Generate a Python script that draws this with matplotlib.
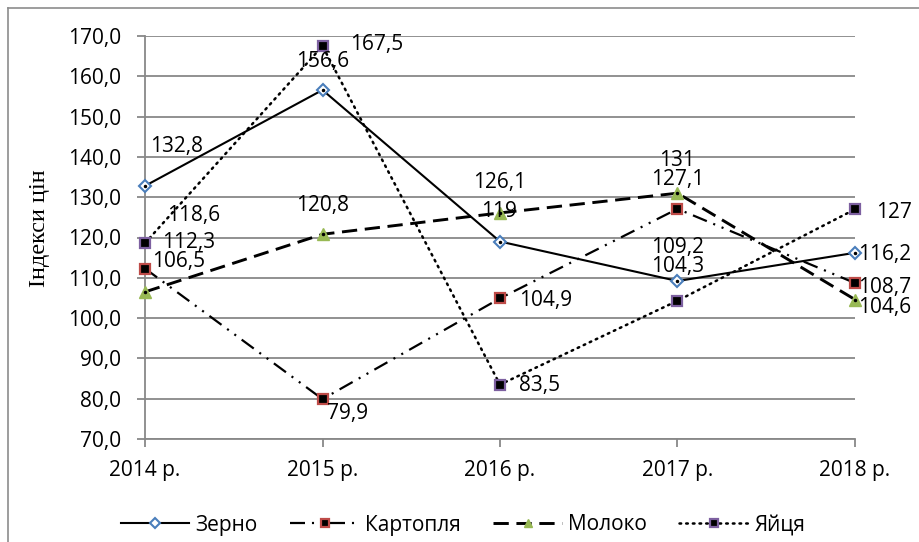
import matplotlib
matplotlib.use("Agg")
import matplotlib.pyplot as plt
from matplotlib.lines import Line2D

years = ["2014 р.", "2015 р.", "2016 р.", "2017 р.", "2018 р."]
zerno = [132.8, 156.6, 119.0, 109.2, 116.2]
kartoplia = [112.3, 79.9, 104.9, 127.1, 108.7]
moloko = [106.5, 120.8, 126.1, 131.0, 104.6]
yaitsia = [118.6, 167.5, 83.5, 104.3, 127.0]
labels_zerno = ["132,8", "156,6", "119", "109,2", "116,2"]
labels_kart = ["112,3", "79,9", "104,9", "127,1", "108,7"]
labels_mol = ["106,5", "120,8", "126,1", "131", "104,6"]
labels_yai = ["118,6", "167,5", "83,5", "104,3", "127"]
yticks = [70, 80, 90, 100, 110, 120, 130, 140, 150, 160, 170]
ytick_labels = ["70,0", "80,0", "90,0", "100,0", "110,0", "120,0", "130,0",
                "140,0", "150,0", "160,0", "170,0"]

plt.rcParams['font.family'] = ['Open Sans', 'DejaVu Sans']
plt.rcParams['lines.scale_dashes'] = False

fig = plt.figure(figsize=(9.2, 5.42), dpi=100)
ax = fig.add_axes([145/920, 1-439/542, (855-145)/920, (439-36)/542])

x = list(range(len(years)))
grid_c = '#888888'

# frame of chart area (left/top visible)
fig.add_artist(Line2D([8/920, 8/920], [0, 1-8/542], transform=fig.transFigure, color='#8c8c8c', lw=1.2))
fig.add_artist(Line2D([8/920, 1], [1-8/542, 1-8/542], transform=fig.transFigure, color='#8c8c8c', lw=1.2))

blue, red, green, purple = '#4A7EBB', '#BE4B48', '#98B954', '#7D60A0'

l1, = ax.plot(x, zerno, color='black', lw=1.5, ls='-', marker='D', ms=6,
              mfc='white', mec=blue, mew=1.5, zorder=5, label='Зерно', clip_on=False)
ax.plot(x, zerno, ls='none', marker='.', ms=3, color='black', zorder=6, clip_on=False)
l2, = ax.plot(x, kartoplia, color='black', lw=1.6,
              ls=(0, (10.8, 5, 1.5, 5, 1.5, 5)), marker='s', ms=7,
              mfc='black', mec=red, mew=1.6, zorder=5, label='Картопля', clip_on=False)
l3, = ax.plot(x, moloko, color='black', lw=2.1, ls=(0, (11, 5.5)),
              marker='^', ms=8, mfc=green, mec=green, mew=1, zorder=5, label='Молоко', clip_on=False)
ax.plot(x, moloko, ls='none', marker='.', ms=3, color='black', zorder=6, clip_on=False)
l4, = ax.plot(x, yaitsia, color='black', lw=1.8, ls=(0, (1.2, 3.6)),
              dash_capstyle='round', marker='s', ms=7, mfc='black', mec=purple,
              mew=1.6, zorder=5, label='Яйця', clip_on=False)

fs = 15
def lab(xi, yv, txt, dx, dy, ha):
    ax.annotate(txt, (xi, yv), xytext=(dx, -dy), textcoords='offset pixels',
                ha=ha, va='center', fontsize=fs, zorder=7)

# (dx pixels, dy pixels downward, ha)
pos_zerno = [(5, -39, 'left'), (0, -29, 'center'), (-1, -30, 'center'), (0, -34, 'center'), (3, 2, 'left')]
pos_kart = [(17, -26, 'left'), (5, 14, 'left'), (19, 2, 'left'), (0, -29, 'center'), (3, 4, 'left')]
pos_mol = [(7, -30, 'left'), (0, -29, 'center'), (0, -30, 'center'), (0, -33, 'center'), (3, 8, 'left')]
pos_yai = [(22, -28, 'left'), (28, -2, 'left'), (19, 1, 'left'), (0, -34, 'center'), (21, 3, 'left')]

for vals, labs, pos in [(zerno, labels_zerno, pos_zerno), (kartoplia, labels_kart, pos_kart),
                        (moloko, labels_mol, pos_mol), (yaitsia, labels_yai, pos_yai)]:
    for i in range(len(vals)):
        dx, dy, ha = pos[i]
        lab(x[i], vals[i], labs[i], dx, dy, ha)

ax.set_xlim(0, len(years)-1)
ax.set_ylim(70, 170)
ax.set_yticks(yticks)
ax.set_yticklabels(ytick_labels, fontsize=fs)
ax.set_xticks(x)
ax.set_xticklabels(years, fontsize=fs)
ax.yaxis.grid(True, color=grid_c, lw=1.3)
ax.set_axisbelow(True)
for s in ['top', 'right']:
    ax.spines[s].set_visible(False)
for s in ['left', 'bottom']:
    ax.spines[s].set_color(grid_c)
    ax.spines[s].set_linewidth(1.3)
ax.tick_params(axis='both', direction='out', length=6, width=1.3, color=grid_c)
ax.tick_params(axis='y', pad=11)
ax.tick_params(axis='x', pad=9)

fig.text(40/920, 1-228/542, 'Індекси цін', rotation=90, ha='center', va='center',
         fontsize=17.5, family=['Liberation Serif', 'DejaVu Serif'])

fig.legend(handles=[l1, l2, l3, l4], loc='center', bbox_to_anchor=(463/920, 1-525/542),
           ncol=4, frameon=False, fontsize=fs, handlelength=3.3, handletextpad=0.3,
           columnspacing=1.55, numpoints=1, borderpad=0.1, markerscale=0.8)

fig.savefig('out.png', dpi=100)
